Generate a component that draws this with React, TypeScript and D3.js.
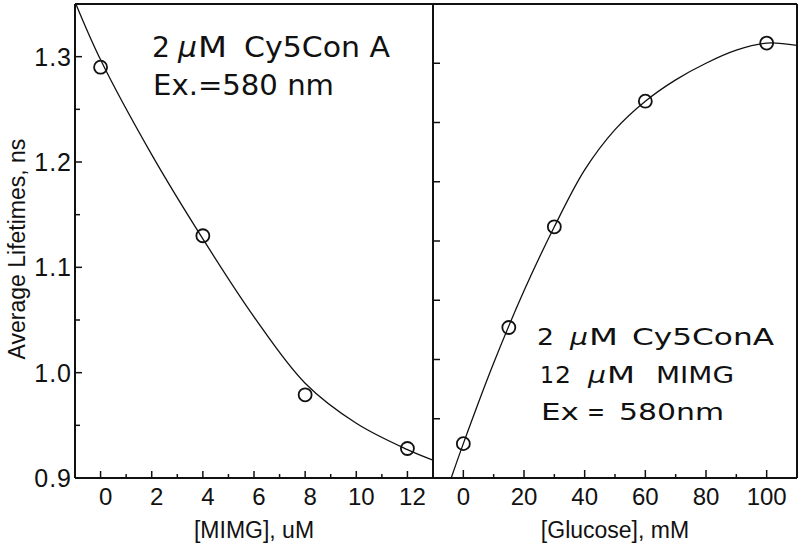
import React from "react";
import * as d3 from "d3";

// ---- Data ----
// Left panel: lifetime vs [MIMG]
const mimgConc = [0, 4, 8, 12];
const mimgLifetime = [1.29, 1.13, 0.979, 0.928];
// Fitted curve samples
const mimgFitX = [-1, 0, 2, 4, 6, 8, 10, 12, 13];
const mimgFitY = [1.352, 1.297, 1.207, 1.127, 1.053, 0.99, 0.952, 0.927, 0.917];

// Right panel: lifetime vs [Glucose] (own, unlabeled y scale)
const glucoseConc = [0, 15, 30, 60, 100];
const glucoseLifetime = [0.929, 1.027, 1.112, 1.218, 1.267];
const glucoseFitX = [-4, 0, 10, 20, 30, 40, 50, 60, 70, 80, 90, 100, 110];
const glucoseFitY = [0.9, 0.929, 0.997, 1.058, 1.112, 1.16, 1.194, 1.218, 1.236, 1.25, 1.261, 1.267, 1.265];

// Ticks
const leftXMajor = [0, 2, 4, 6, 8, 10, 12];
const leftXMinor = [1, 3, 5, 7, 9, 11];
const leftYMajor = [0.9, 1.0, 1.1, 1.2, 1.3];
const leftYMinor = [0.95, 1.05, 1.15, 1.25];
const rightXMajor = [0, 20, 40, 60, 80, 100];
const rightXMinor = [10, 30, 50, 70, 90];
const rightYTicks = [0.95, 1.0, 1.05, 1.1, 1.15, 1.2, 1.25];

const leftXTitle = "[MIMG], uM";
const rightXTitle = "[Glucose], mM";
const yTitle = "Average Lifetimes, ns";

// ---- Layout ----
const W = 800;
const H = 549;
const top = 4;
const bottom = 478;
const x0 = 75;
const xMid = 433;
const x1 = 797;

const TICK_FONT = "'Liberation Sans', Arial, sans-serif";
const ANNO_FONT = "'DejaVu Sans', sans-serif";

export default function App() {
  const xL = d3.scaleLinear().domain([-1, 13]).range([x0, xMid]);
  const yL = d3.scaleLinear().domain([0.9, 1.35]).range([bottom, top]);
  const xR = d3.scaleLinear().domain([-10, 110]).range([xMid, x1]);
  const yR = d3.scaleLinear().domain([0.9, 1.3]).range([bottom, top]);

  const lineL = d3
    .line<number>()
    .x((_, i) => xL(mimgFitX[i]))
    .y((d) => yL(d))
    .curve(d3.curveCatmullRom.alpha(0.5));
  const lineR = d3
    .line<number>()
    .x((_, i) => xR(glucoseFitX[i]))
    .y((d) => yR(d))
    .curve(d3.curveCatmullRom.alpha(0.5));

  const seg = (
    txt: string,
    x: number,
    y: number,
    size: number,
    len: number,
    italic?: boolean
  ) => (
    <text
      key={txt + x + "_" + y}
      x={x}
      y={y}
      fontFamily={ANNO_FONT}
      fontSize={size}
      fontStyle={italic ? "italic" : "normal"}
      textLength={len}
      lengthAdjust="spacingAndGlyphs"
      fill="#111"
    >
      {txt}
    </text>
  );

  return (
    <svg
      width={W}
      height={H}
      viewBox={`0 0 ${W} ${H}`}
      style={{ position: "absolute", left: 0, top: 0, background: "#fff" }}
    >
      <defs>
        <clipPath id="clipL">
          <rect x={x0} y={top} width={xMid - x0} height={bottom - top} />
        </clipPath>
        <clipPath id="clipR">
          <rect x={xMid} y={top} width={x1 - xMid} height={bottom - top} />
        </clipPath>
      </defs>

      {/* Fit curves */}
      <path d={lineL(mimgFitY) ?? ""} fill="none" stroke="#111" strokeWidth={1.3} clipPath="url(#clipL)" />
      <path d={lineR(glucoseFitY) ?? ""} fill="none" stroke="#111" strokeWidth={1.3} clipPath="url(#clipR)" />

      {/* Data points */}
      {mimgConc.map((c, i) => (
        <circle key={"l" + i} cx={xL(c)} cy={yL(mimgLifetime[i])} r={6.5} fill="none" stroke="#111" strokeWidth={1.8} />
      ))}
      {glucoseConc.map((c, i) => (
        <circle key={"r" + i} cx={xR(c)} cy={yR(glucoseLifetime[i])} r={6.5} fill="none" stroke="#111" strokeWidth={1.8} />
      ))}

      {/* Frame */}
      <g stroke="#111" strokeWidth={2} fill="none">
        <line x1={x0} y1={top} x2={x1} y2={top} />
        <line x1={x0} y1={bottom} x2={x1} y2={bottom} />
        <line x1={x0} y1={top} x2={x0} y2={bottom} />
        <line x1={xMid} y1={top} x2={xMid} y2={bottom} />
        <line x1={x1} y1={top} x2={x1} y2={bottom} />
      </g>

      {/* Ticks */}
      <g stroke="#111" strokeWidth={1.5}>
        {leftYMajor.map((v) => (
          <line key={"lym" + v} x1={x0} x2={x0 + 7} y1={yL(v)} y2={yL(v)} />
        ))}
        {leftYMinor.map((v) => (
          <line key={"lyn" + v} x1={x0} x2={x0 + 5} y1={yL(v)} y2={yL(v)} />
        ))}
        {rightYTicks.map((v) => (
          <line key={"ry" + v} x1={xMid} x2={xMid + 7} y1={yR(v)} y2={yR(v)} />
        ))}
        {leftXMajor.map((v) => (
          <line key={"lxm" + v} x1={xL(v)} x2={xL(v)} y1={bottom} y2={bottom - 7} />
        ))}
        {leftXMinor.map((v) => (
          <line key={"lxn" + v} x1={xL(v)} x2={xL(v)} y1={bottom} y2={bottom - 4} />
        ))}
        {rightXMajor.map((v) => (
          <line key={"rxm" + v} x1={xR(v)} x2={xR(v)} y1={bottom} y2={bottom - 8} />
        ))}
        {rightXMinor.map((v) => (
          <line key={"rxn" + v} x1={xR(v)} x2={xR(v)} y1={bottom} y2={bottom - 4} />
        ))}
      </g>

      {/* Tick labels */}
      <g fontFamily={TICK_FONT} fill="#111">
        {leftYMajor.map((v) => (
          <text key={"lyt" + v} x={x0 - 3} y={yL(v)} dy="0.36em" textAnchor="end" fontSize={25} letterSpacing={1}>
            {d3.format(".1f")(v)}
          </text>
        ))}
        {leftXMajor.map((v) => (
          <text key={"lxt" + v} x={xL(v) + 5} y={505} textAnchor="middle" fontSize={24}>
            {v}
          </text>
        ))}
        {rightXMajor.map((v) => (
          <text key={"rxt" + v} x={xR(v)} y={505} textAnchor="middle" fontSize={24}>
            {v}
          </text>
        ))}
      </g>

      {/* Axis titles */}
      <g fontFamily={TICK_FONT} fontSize={23} fill="#111">
        <text x={(x0 + xMid) / 2} y={538} textAnchor="middle">
          {leftXTitle}
        </text>
        <text x={(xMid + x1) / 2} y={538} textAnchor="middle">
          {rightXTitle}
        </text>
        <text transform="translate(25,249) rotate(-90)" textAnchor="middle">
          {yTitle}
        </text>
      </g>

      {/* Left annotation */}
      {seg("2", 152, 57, 28, 18)}
      {seg("μ", 178, 57, 28, 19, true)}
      {seg("M", 198, 57, 28, 29)}
      {seg("Cy5Con A", 244, 57, 28, 146)}
      {seg("Ex.=580 nm", 153, 95, 28, 181)}

      {/* Right annotation */}
      {seg("2", 537, 345, 23, 17)}
      {seg("μ", 570, 345, 23, 18, true)}
      {seg("M", 589, 345, 23, 29)}
      {seg("Cy5ConA", 632, 345, 23, 142)}
      {seg("1", 540, 383, 23, 14)}
      {seg("2", 555, 383, 23, 16)}
      {seg("μ", 588, 383, 23, 18, true)}
      {seg("M", 607, 383, 23, 28)}
      {seg("MIMG", 656, 383, 23, 78)}
      {seg("Ex", 541, 420, 23, 38)}
      {seg("=", 587, 420, 23, 18)}
      {seg("580nm", 619, 420, 23, 105)}
    </svg>
  );
}
